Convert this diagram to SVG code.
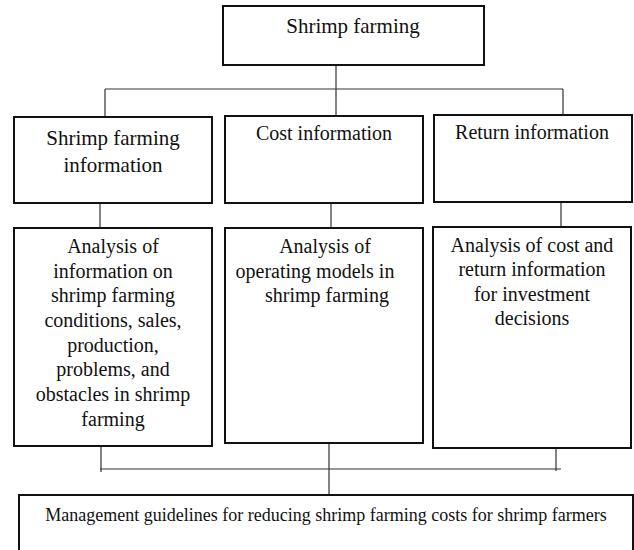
<svg xmlns="http://www.w3.org/2000/svg" width="634" height="550" viewBox="0 0 634 550">
<style>
.box{fill:#fff;stroke:#111;stroke-width:2}
.ln{stroke:#333;stroke-width:1.2;fill:none}
text{font-family:'Liberation Serif','Times New Roman',serif;font-size:20px;fill:#111;text-anchor:middle}
.s{font-size:18px}
.l{font-size:21px}
</style>
<rect width="634" height="550" fill="#fff"/>
<g id="connectors">
<path class="ln" d="M336 65V116M105 89H563M105 89V117M563 89V115"/>
<path class="ln" d="M100 203V228M331 203V228M561 202V227"/>
<path class="ln" d="M101 446V472M100 469H561M556 447V471M329 443V495"/>
</g>
<g id="n-top">
<rect class="box" x="223" y="6" width="261" height="59"/>
<text class="l" x="353" y="33">Shrimp farming</text>
</g>
<g id="n-info">
<rect class="box" x="14" y="117" width="198" height="86"/>
<text class="l" x="113" y="145">Shrimp farming</text>
<text class="l" x="113" y="171.5">information</text>
</g>
<g id="n-cost">
<rect class="box" x="225" y="116" width="198" height="87"/>
<text x="324" y="140">Cost information</text>
</g>
<g id="n-return">
<rect class="box" x="434" y="115" width="198" height="87"/>
<text x="532" y="139">Return information</text>
</g>
<g id="n-analysis1">
<rect class="box" x="14" y="228" width="198" height="218"/>
<text x="113" y="253">Analysis of</text>
<text x="113" y="278">information on</text>
<text x="113" y="302">shrimp farming</text>
<text x="113" y="327">conditions, sales,</text>
<text x="113" y="352">production,</text>
<text x="113" y="376">problems, and</text>
<text x="113" y="401">obstacles in shrimp</text>
<text x="113" y="426">farming</text>
</g>
<g id="n-analysis2">
<rect class="box" x="225" y="228" width="198" height="215"/>
<text x="325" y="253">Analysis of</text>
<text x="315" y="278">operating models in</text>
<text x="327" y="302">shrimp farming</text>
</g>
<g id="n-analysis3">
<rect class="box" x="433" y="227" width="198" height="221"/>
<text x="532" y="251.5">Analysis of cost and</text>
<text x="532" y="276">return information</text>
<text x="532" y="300.5">for investment</text>
<text x="532" y="325">decisions</text>
</g>
<g id="n-guidelines">
<rect class="box" x="19" y="495" width="614" height="70"/>
<text class="s" x="326" y="520.5">Management guidelines for reducing shrimp farming costs for shrimp farmers</text>
</g>
</svg>
